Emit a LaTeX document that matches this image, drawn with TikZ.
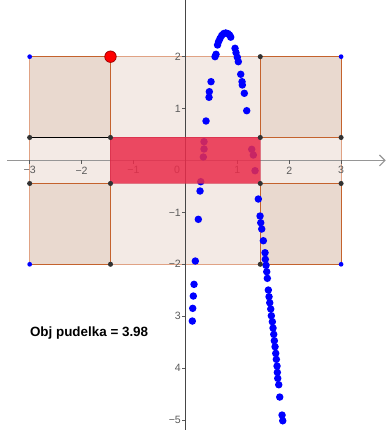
\documentclass[tikz,border=0pt]{standalone}
\usepackage{fontspec}
\setmainfont{Liberation Sans}
\usetikzlibrary{arrows.meta}
\definecolor{outerfill}{RGB}{243,234,229}
\definecolor{cornerfill}{RGB}{233,217,207}
\definecolor{cornerline}{RGB}{196,98,45}
\definecolor{outerline}{RGB}{224,162,132}
\definecolor{redbox}{RGB}{234,44,74}
\definecolor{axisgrey}{RGB}{150,150,150}
\definecolor{yaxis}{RGB}{70,70,70}
\definecolor{labgrey}{RGB}{90,90,90}
\definecolor{vtx}{RGB}{50,50,50}
\tikzset{
  cornersq/.style={fill=cornerfill, draw=cornerline, line width=0.6pt},
  lab/.style={font=\fontsize{5.8}{6}\selectfont, text=labgrey, inner sep=0pt},
  vdot/.style={circle, fill=vtx, inner sep=0pt, minimum size=2.8pt},
  bdot/.style={circle, fill=blue, inner sep=0pt, minimum size=2.6pt},
  trace/.style={circle, fill=blue, inner sep=0pt, minimum size=4.1pt},
}
\begin{document}
\begin{tikzpicture}
\useasboundingbox (-3.572,-5.193) rectangle (3.884,3.092);
\def\a{1.443}
\def\b{0.443}
% outer sheet
\fill[outerfill] (-3,-2) rectangle (3,2);
\draw[outerline, line width=0.6pt] (-3,-2) rectangle (3,2);
% corner squares
\draw[cornersq] (-3,\b) rectangle (-\a,2);
\draw[cornersq] (\a,\b) rectangle (3,2);
\draw[cornersq] (-3,-2) rectangle (-\a,-\b);
\draw[cornersq] (\a,-2) rectangle (3,-\b);
\draw[outerline, line width=0.6pt] (-3,-2) -- (-3,2);
\draw[black, line width=0.6pt] (-3,\b) -- (-\a,\b);
% axes
\draw[axisgrey, line width=0.6pt, -{Straight Barb[length=3pt,width=6pt]}] (-3.43,0) -- (3.86,0);
\draw[yaxis, line width=0.6pt] (0,3.09) -- (0,-5.2);
\foreach \i in {-3,-2,-1,1,2,3} \draw[labgrey, line width=0.4pt] (\i,0) -- (\i,-0.06);
\foreach \i in {-5,-4,-3,-2,-1,1,2} \draw[labgrey, line width=0.4pt] (0,\i) -- (-0.07,\i);
% axis labels
\node[lab] (xm3) at (-3,-0.19) {−3};
\node[lab] (xm2) at (-2,-0.19) {−2};
\node[lab] (xm1) at (-1,-0.19) {−1};
\node[lab] (x0) at (-0.16,-0.19) {0};
\node[lab] (x1) at (1,-0.19) {1};
\node[lab] (x2) at (2,-0.19) {2};
\node[lab] (x3) at (3,-0.19) {3};
\node[lab, anchor=east] (y2) at (-0.08,2) {2};
\node[lab, anchor=east] (y1) at (-0.08,1) {1};
\node[lab, anchor=east] (ym1) at (-0.08,-1) {−1};
\node[lab, anchor=east] (ym2) at (-0.08,-2) {−2};
\node[lab, anchor=east] (ym3) at (-0.08,-3) {3};
\node[lab, anchor=east] (ym4) at (-0.08,-4) {4};
\node[lab, anchor=east] (ym5) at (-0.08,-5) {−5};
% traced points (pixel coordinates)
\begin{scope}[shift={(-3.5723,3.0925)}, x=0.019268cm, y=-0.019268cm]
\foreach \p in {(192.3,321),(192.7,308.3),(193.3,296),(194,284.3),(195.3,261),(198.3,219.3),(200,191),(200.7,181.7),(203.3,157),(204,149),(204,141.7),(206,121),(209,97.3),(209.3,91.7),(211,81.7),(215,56.7),(216,54.3),(217.5,45),(218.6,41.5),(220,38.5),(221.7,35.5),(223.6,33.6),(225.7,33),(227.8,33.6),(229.5,35),(230.7,37.2),
(235,48.3),(236,52.7),(237.3,57.3),(238.3,61.7),(240.7,74.3),(242,81.7),(242.3,85),(244.3,93.3),(246.7,110.7),(251.7,149.3),(253.3,155),(255,170.7),(258.3,199),(260,216),(260.7,222.7),(261.7,229),(263.3,240.7),(265,252.7),(265.3,259.3),(266,265.3),(266.7,271.7),(267.3,278.3),(268.3,290),(269,296.7),(269.7,302.7),(270.7,309),(271.3,315.7),(272.3,321.7),(273,328),(273.7,334.3),(274.3,340.7),(275,346.7),(275.7,353.3),(276.3,359.3),(277,366),(277.3,372.3),(277.7,378.3),(278.7,384.7),(279.7,397),(282,415),(282.7,420.7)}
  \node[trace] at \p {};
\end{scope}
% box base
\fill[redbox, opacity=0.85] (-\a,-\b) rectangle (\a,\b);
\draw[redbox!90!black, line width=0.5pt, opacity=0.6] (-\a,-\b) rectangle (\a,\b);
% vertices
\node[bdot] (p1) at (-3,2) {};
\node[bdot] (p2) at (3,2) {};
\node[bdot] (p3) at (-3,-2) {};
\node[bdot] (p4) at (3,-2) {};
\node[vdot] (q1) at (\a,2) {};
\node[vdot] (q2) at (-3,\b) {};
\node[vdot] (q3) at (-\a,\b) {};
\node[vdot] (q4) at (-3,-\b) {};
\node[vdot] (q5) at (-\a,-\b) {};
\node[vdot] (q6) at (-\a,-2) {};
\node[vdot] (q7) at (\a,\b) {};
\node[vdot] (q8) at (3,\b) {};
\node[vdot] (q9) at (\a,-\b) {};
\node[vdot] (q10) at (3,-\b) {};
\node[vdot] (q11) at (\a,-2) {};
\node[circle, fill=red, draw=red!60!black, line width=0.4pt, inner sep=0pt, minimum size=6.3pt] (cut) at (-\a,2) {};
% text
\node[font=\fontsize{7.35}{8}\selectfont\bfseries, anchor=west, inner sep=0pt] (obj) at (-3.00,-3.32) {Obj pudelka = 3.98};
\end{tikzpicture}
\end{document}
